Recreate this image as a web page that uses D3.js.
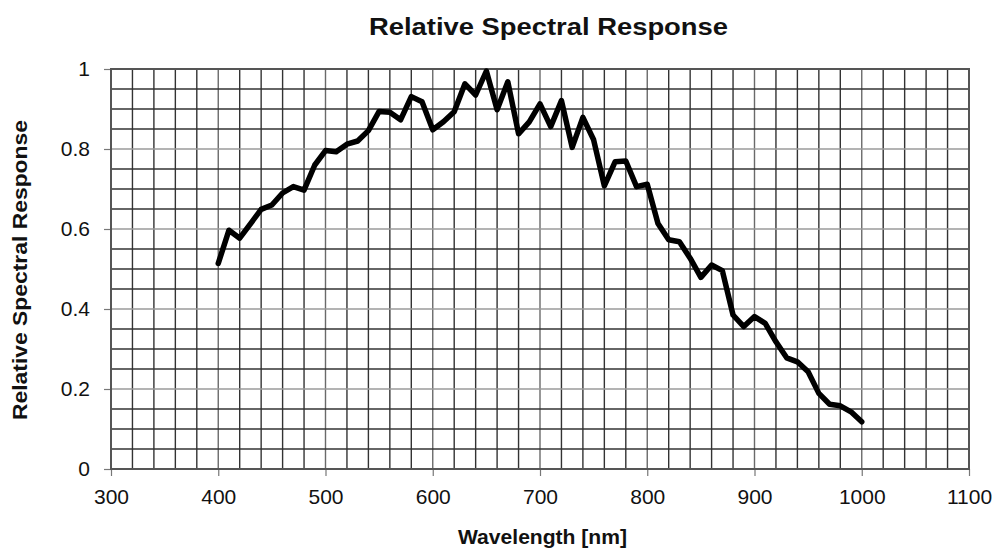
<!DOCTYPE html>
<html><head><meta charset="utf-8">
<script src="https://cdn.jsdelivr.net/npm/d3@7"></script>
<style>body{margin:0;background:#fff}svg{display:block}text{font-family:"Liberation Sans",Arial,sans-serif}</style>
</head><body>
<svg id="c" width="996" height="553"></svg>
<script>
const wavelengths = d3.range(400, 1001, 10);
const response = [0.514,0.597,0.577,0.613,0.649,0.660,0.690,0.706,0.697,0.760,0.796,0.793,0.812,0.820,0.846,0.894,0.892,0.873,0.931,0.918,
0.848,0.868,0.893,0.963,0.935,0.995,0.898,0.968,0.838,0.868,0.913,0.856,0.921,0.804,0.879,0.823,0.708,0.768,0.770,0.706,
0.712,0.614,0.573,0.568,0.527,0.479,0.510,0.496,0.385,0.356,0.381,0.364,0.318,0.278,0.268,0.243,0.189,0.162,0.158,0.143,0.118];
const xTicks = [300,400,500,600,700,800,900,1000,1100];
const yTicks = [0,0.2,0.4,0.6,0.8,1];

const svg = d3.select("#c");
const L=111,R=969,T=69,B=469;
const x = d3.scaleLinear().domain([300,1100]).range([L,R]);
const y = d3.scaleLinear().domain([0,1]).range([B,T]);

// grid
const g = svg.append("g");
g.selectAll("line.v").data(d3.range(320,1100,20)).join("line")
 .attr("x1",d=>x(d)).attr("x2",d=>x(d)).attr("y1",T).attr("y2",B)
 .attr("stroke",d=> d%100===0 ? "#6a6a6a" : "#333").attr("stroke-width",1.4);
g.selectAll("line.h").data(d3.range(1,20).map(i=>i*0.05)).join("line")
 .attr("y1",d=>y(d)).attr("y2",d=>y(d)).attr("x1",L).attr("x2",R)
 .attr("stroke",(d,i)=> (i+1)%4===0 ? "#9a9a9a" : "#333").attr("stroke-width",1.4);

// axes
const xa = svg.append("g").attr("transform",`translate(0,${B})`)
 .call(d3.axisBottom(x).tickValues(xTicks).tickSize(7).tickPadding(13).tickFormat(d3.format("d")));
const ya = svg.append("g").attr("transform",`translate(${L},0)`)
 .call(d3.axisLeft(y).tickValues(yTicks).tickSize(7).tickPadding(14).tickFormat(d=>d===0||d===1?String(d):d.toFixed(1)));
[xa,ya].forEach(a=>{
  a.select(".domain").remove();
  a.selectAll(".tick line").attr("stroke","#777").attr("stroke-width",1.2);
  a.selectAll(".tick text").attr("font-size",21).attr("fill","#111");
});

// border
svg.append("rect").attr("x",L).attr("y",T).attr("width",R-L).attr("height",B-T)
 .attr("fill","none").attr("stroke","#555").attr("stroke-width",2);

// line
const line = d3.line().x((d,i)=>x(wavelengths[i])).y(d=>y(d));
svg.append("path").datum(response).attr("d",line).attr("fill","none")
 .attr("stroke","#000").attr("stroke-width",5.5).attr("stroke-linejoin","round").attr("stroke-linecap","round");

// titles
svg.append("text").attr("x",548.5).attr("y",35).attr("text-anchor","middle")
 .attr("font-size",23).attr("font-weight","bold").attr("fill","#111")
 .attr("textLength",359).attr("lengthAdjust","spacingAndGlyphs").text("Relative Spectral Response");
svg.append("text").attr("x",542.5).attr("y",544).attr("text-anchor","middle")
 .attr("font-size",20).attr("font-weight","bold").attr("fill","#111")
 .attr("textLength",169).attr("lengthAdjust","spacingAndGlyphs").text("Wavelength [nm]");
svg.append("text").attr("transform","translate(27,270) rotate(-90)").attr("text-anchor","middle")
 .attr("font-size",20).attr("font-weight","bold").attr("fill","#111")
 .attr("textLength",300).attr("lengthAdjust","spacingAndGlyphs").text("Relative Spectral Response");
</script>
</body></html>
